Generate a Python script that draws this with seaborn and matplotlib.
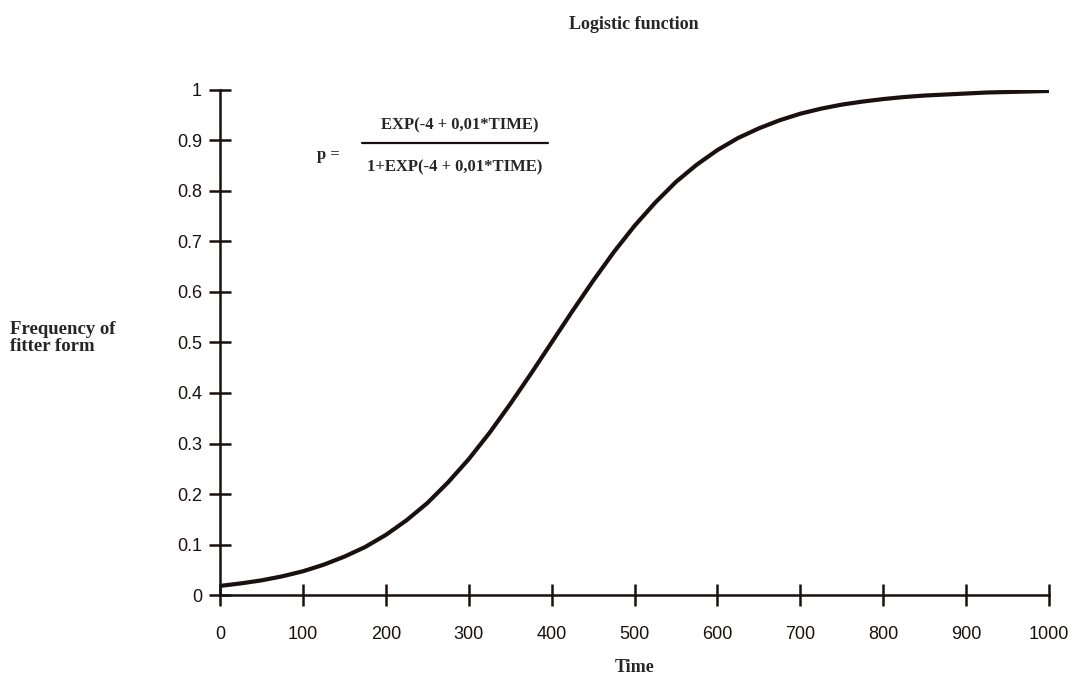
import matplotlib
matplotlib.use("Agg")
import matplotlib.pyplot as plt
import seaborn as sns
import pandas as pd

# values
time = [0, 25, 50, 75, 100, 125, 150, 175, 200, 225, 250, 275, 300, 325, 350, 375,
        400, 425, 450, 475, 500, 525, 550, 575, 600, 625, 650, 675, 700, 725,
        750, 775, 800, 825, 850, 875, 900, 925, 950, 975, 1000]
freq = [0.018, 0.023, 0.029, 0.037, 0.047, 0.060, 0.076, 0.095, 0.119, 0.148, 0.182,
        0.223, 0.269, 0.321, 0.378, 0.438, 0.5, 0.562, 0.622, 0.679, 0.731, 0.777,
        0.818, 0.852, 0.881, 0.905, 0.924, 0.940, 0.953, 0.963, 0.971, 0.977,
        0.982, 0.986, 0.989, 0.991, 0.993, 0.995, 0.996, 0.997, 0.998]
xticks = [0, 100, 200, 300, 400, 500, 600, 700, 800, 900, 1000]
yticks = [0, 0.1, 0.2, 0.3, 0.4, 0.5, 0.6, 0.7, 0.8, 0.9, 1]
ylabels = ["0", "0.1", "0.2", "0.3", "0.4", "0.5", "0.6", "0.7", "0.8", "0.9", "1"]

df = pd.DataFrame({"Time": time, "p": freq})

sns.set_style("white")
plt.rcParams["font.family"] = ["Liberation Sans", "DejaVu Sans"]
serif = ["Liberation Serif", "DejaVu Serif"]
ink = "#1a1010"

fig = plt.figure(figsize=(10.75, 6.76), dpi=100)
ax = fig.add_axes([0.2047, 0.1198, 0.7711, 0.7471])

sns.lineplot(data=df, x="Time", y="p", color=ink, linewidth=3.0, ax=ax)

ax.set_xlim(0, 1000)
ax.set_ylim(0, 1)
ax.set_xticks(xticks)
ax.set_yticks(yticks)
ax.set_yticklabels(ylabels)
for s in ["top", "right"]:
    ax.spines[s].set_visible(False)
for s in ["left", "bottom"]:
    ax.spines[s].set_color(ink)
    ax.spines[s].set_linewidth(1.8)
ax.tick_params(bottom=True, left=True, direction="inout", length=16, width=1.8,
               color=ink, labelsize=13, labelcolor=ink)
ax.tick_params(axis="x", pad=14)
ax.tick_params(axis="y", pad=5)

ax.set_xlabel("Time", family=serif, fontweight="bold", fontsize=13, labelpad=12)
ax.set_ylabel("")
fig.text(0.009, 0.5, "Frequency of\nfitter form", family=serif, fontweight="bold",
         fontsize=13.5, ha="left", va="center", linespacing=1.0)
fig.text(0.59, 0.964, "Logistic function", family=serif, fontweight="bold",
         fontsize=13, ha="center", va="center")

# formula
fig.text(0.295, 0.771, "p =", family=serif, fontweight="bold", fontsize=12,
         ha="left", va="center")
fig.text(0.428, 0.815, "EXP(-4 + 0,01*TIME)", family=serif, fontweight="bold",
         fontsize=12, ha="center", va="center")
fig.text(0.423, 0.752, "1+EXP(-4 + 0,01*TIME)", family=serif, fontweight="bold",
         fontsize=12, ha="center", va="center")
fig.add_artist(plt.Line2D([0.337, 0.510], [0.788, 0.788], color=ink,
                          linewidth=1.6, transform=fig.transFigure))

fig.savefig("out.png", dpi=100)
